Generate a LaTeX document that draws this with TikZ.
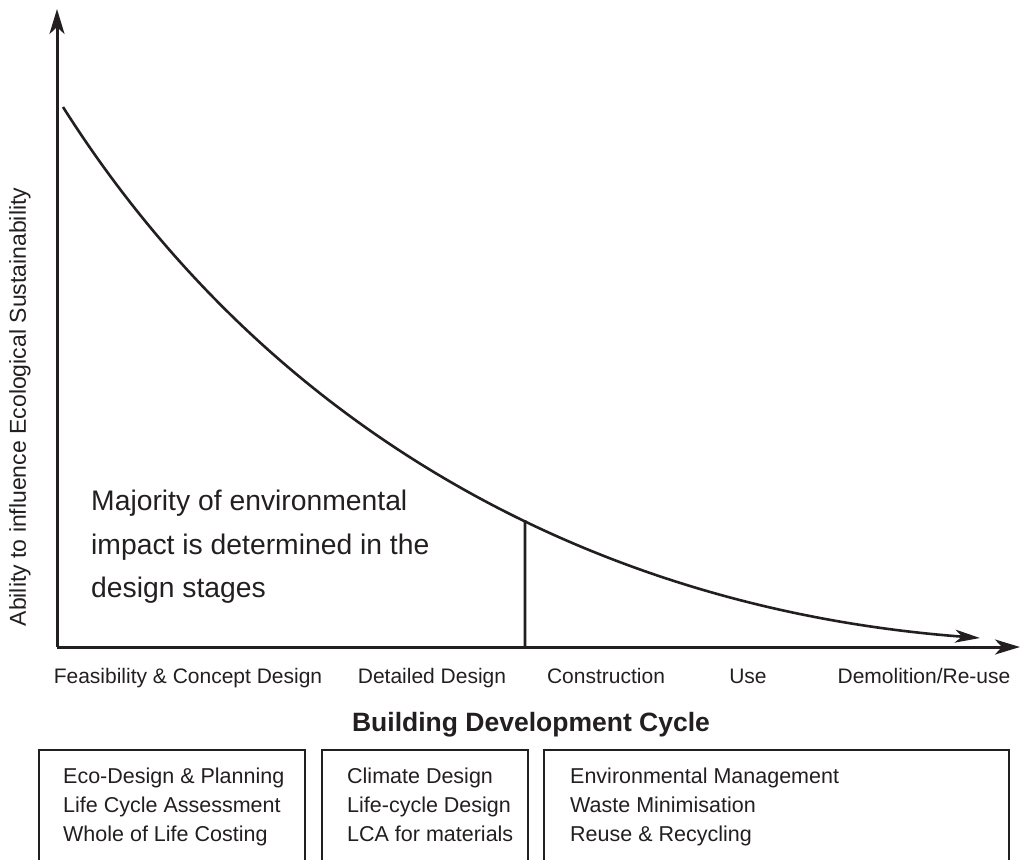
\documentclass[tikz,border=0pt]{standalone}
\usepackage{fontspec}
\setmainfont{Liberation Sans}
\usetikzlibrary{arrows.meta,intersections}
\definecolor{ink}{RGB}{35,31,32}
\begin{document}
\begin{tikzpicture}[x=1pt,y=-1pt,
  axisline/.style={line width=3pt, draw=ink, -{Stealth[length=25pt,width=15pt,inset=7pt]}},
  curveline/.style={line width=2.6pt, draw=ink, -{Stealth[length=25pt,width=13pt,inset=7pt]}},
  markline/.style={line width=2.6pt, draw=ink},
  boxline/.style={line width=2pt, draw=ink},
  stagelabel/.style={text=ink, inner sep=0pt, anchor=base, font=\fontsize{21}{26}\selectfont},
  boxtext/.style={text=ink, inner sep=0pt, anchor=north west, align=left, font=\fontsize{21.5}{29}\selectfont},
  bigtext/.style={text=ink, inner sep=0pt, anchor=west, align=left, font=\fontsize{28.3}{43.5}\selectfont},
  titletext/.style={text=ink, inner sep=0pt, anchor=base, font=\bfseries\fontsize{26.5}{30}\selectfont},
  ylabel/.style={text=ink, inner sep=0pt, rotate=90, font=\fontsize{23}{27}\selectfont}
]
\useasboundingbox (0,0) rectangle (1021,860);

% axes
\coordinate (origin) at (57,647);
\coordinate (ytip) at (57,9);
\coordinate (xtip) at (1020,647);
\draw[axisline] (origin) -- (ytip);
\draw[axisline] (origin) -- (xtip);

% curve
\coordinate (cstart) at (63,107);
\coordinate (cend) at (980,638);
\draw[curveline, name path=curve] (cstart) .. controls (260,418) and (580,608) .. (cend);

% divider
\path[name path=vprobe] (525,300) -- (525,647);
\path[name intersections={of=curve and vprobe, by=divtop}];
\coordinate (divbase) at (525,647);
\draw[markline] (divtop) -- (divbase);

% y-axis label
\node[ylabel] (ylab) at (20,407) {Ability to influence Ecological Sustainability};

% note
\node[bigtext] (note) at (91,547) {Majority of environmental\\impact is determined in the\\design stages};

% stage labels
\node[stagelabel] (s1) at (188,683) {Feasibility \& Concept Design};
\node[stagelabel] (s2) at (432,683) {Detailed Design};
\node[stagelabel] (s3) at (606,683) {Construction};
\node[stagelabel] (s4) at (748,683) {Use};
\node[stagelabel] (s5) at (924,683) {Demolition/Re-use};

% title
\node[titletext] (title) at (531,731) {Building Development Cycle};

% boxes (open at the bottom edge)
\coordinate (b1a) at (39,860); \coordinate (b1b) at (305,750);
\coordinate (b2a) at (322,860); \coordinate (b2b) at (528,750);
\coordinate (b3a) at (544,860); \coordinate (b3b) at (1009,750);
\draw[boxline] (b1a) |- (b1b) -- (b1b |- b1a);
\draw[boxline] (b2a) |- (b2b) -- (b2b |- b2a);
\draw[boxline] (b3a) |- (b3b) -- (b3b |- b3a);

\node[boxtext] (t1) at (63,768) {Eco-Design \& Planning\\Life Cycle Assessment\\Whole of Life Costing};
\node[boxtext] (t2) at (347,768) {Climate Design\\Life-cycle Design\\LCA for materials};
\node[boxtext] (t3) at (570,768) {Environmental Management\\Waste Minimisation\\Reuse \& Recycling};
\end{tikzpicture}
\end{document}
